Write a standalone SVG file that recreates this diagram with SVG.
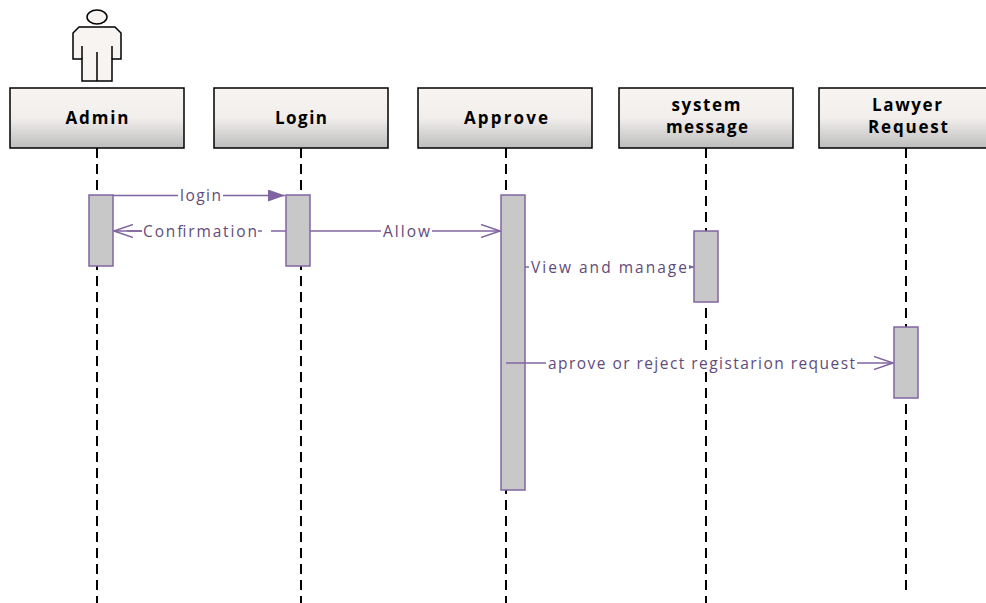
<svg xmlns="http://www.w3.org/2000/svg" width="986" height="603" viewBox="0 0 986 603">
<defs>
<linearGradient id="boxg" x1="0" y1="0" x2="0" y2="1">
<stop offset="0" stop-color="#F7F4F2"/>
<stop offset="0.5" stop-color="#F1EEEC"/>
<stop offset="1" stop-color="#BDBDBD"/>
</linearGradient>
<marker id="filled" markerWidth="18" markerHeight="12" refX="17" refY="6" orient="auto" markerUnits="userSpaceOnUse">
<path d="M0,0 L17,6 L0,12 Z" fill="#8064A2"/>
</marker>
<marker id="open" markerWidth="20" markerHeight="14" refX="19" refY="7" orient="auto" markerUnits="userSpaceOnUse">
<path d="M0,0.5 L19,7 L0,13.5" fill="none" stroke="#8064A2" stroke-width="1.5"/>
</marker>
<marker id="small" markerWidth="8" markerHeight="6" refX="7" refY="3" orient="auto" markerUnits="userSpaceOnUse">
<path d="M0,0 L7,3 L0,6 Z" fill="#8064A2"/>
</marker>
</defs>
<style>
.box{fill:url(#boxg);stroke:#000;stroke-width:1.5}
.title{font-family:"Open Sans","Liberation Sans",sans-serif;font-weight:bold;font-size:17px;fill:#000;text-anchor:middle}
.life{stroke:#000;stroke-width:2;stroke-dasharray:10 6;fill:none}
.act{fill:#C8C8C8;stroke:#8064A2;stroke-width:1.5}
.msg{stroke:#8064A2;stroke-width:1.5;fill:none}
.lbl{font-family:"Open Sans","Liberation Sans",sans-serif;font-size:15.5px;fill:#5F4B7B}
.bg{fill:#fff}
</style>
<rect width="986" height="603" fill="#fff"/>

<g id="lifelines">
<line class="life" x1="97" y1="148" x2="97" y2="603"/>
<line class="life" x1="301" y1="148" x2="301" y2="603"/>
<line class="life" x1="506" y1="148" x2="506" y2="603"/>
<line class="life" x1="706" y1="148" x2="706" y2="603"/>
<line class="life" x1="906" y1="148" x2="906" y2="590"/>
</g>

<g id="actor">
<ellipse cx="97" cy="17" rx="10" ry="7" fill="#F7F4F2" stroke="#000" stroke-width="1.5"/>
<path d="M79,27 H115 L121,33 V59 H112 V81 H82 V59 H73 V33 Z" fill="#F7F4F2" stroke="#000" stroke-width="1.5"/>
<path d="M82,46 V59 M112,46 V59 M97,52 V81" stroke="#000" stroke-width="1.5" fill="none"/>
</g>

<g id="admin">
<rect class="box" x="10" y="88" width="174" height="60"/>
<text class="title" x="97" y="124" textLength="63" lengthAdjust="spacing">Admin</text>
</g>
<g id="login">
<rect class="box" x="214" y="88" width="174" height="60"/>
<text class="title" x="301" y="124" textLength="52" lengthAdjust="spacing">Login</text>
</g>
<g id="approve">
<rect class="box" x="418" y="88" width="174" height="60"/>
<text class="title" x="506" y="124" textLength="84" lengthAdjust="spacing">Approve</text>
</g>
<g id="system-message">
<rect class="box" x="619" y="88" width="174" height="60"/>
<text class="title" x="706" y="111" textLength="69" lengthAdjust="spacing">system</text>
<text class="title" x="707" y="133" textLength="82" lengthAdjust="spacing">message</text>
</g>
<g id="lawyer-request">
<rect class="box" x="819" y="88" width="174" height="60"/>
<text class="title" x="907" y="111" textLength="70" lengthAdjust="spacing">Lawyer</text>
<text class="title" x="908" y="133" textLength="80" lengthAdjust="spacing">Request</text>
</g>

<g id="activations">
<rect class="act" x="89" y="195" width="24" height="71"/>
<rect class="act" x="286" y="195" width="24" height="71"/>
<rect class="act" x="501" y="195" width="24" height="295"/>
<rect class="act" x="694" y="231" width="24" height="71"/>
<rect class="act" x="894" y="327" width="24" height="71"/>
</g>

<g id="connectors">
<line class="msg" x1="113" y1="195.5" x2="285" y2="195.5" marker-end="url(#filled)"/>
<rect class="bg" x="178" y="187" width="45" height="18"/>
<text class="lbl" x="180" y="201" textLength="41" lengthAdjust="spacing">login</text>

<line class="msg" x1="286" y1="231" x2="114" y2="231" stroke-dasharray="15 9" marker-end="url(#open)"/>
<line class="msg" x1="114" y1="231" x2="143" y2="231"/>
<rect class="bg" x="142" y="222" width="116" height="18"/>
<text class="lbl" x="143" y="236.5" textLength="114" lengthAdjust="spacing">Confirmation</text>

<line class="msg" x1="310" y1="231" x2="500" y2="231" marker-end="url(#open)"/>
<rect class="bg" x="381" y="222" width="51" height="18"/>
<text class="lbl" x="383" y="236.5" textLength="47" lengthAdjust="spacing">Allow</text>

<line class="msg" x1="525" y1="267" x2="694" y2="267" marker-end="url(#small)"/>
<rect class="bg" x="529" y="258" width="160" height="18"/>
<text class="lbl" x="531" y="272.5" textLength="156" lengthAdjust="spacing">View and manage</text>

<line class="msg" x1="506" y1="363" x2="893" y2="363" marker-end="url(#open)"/>
<rect class="bg" x="546" y="354" width="311" height="18"/>
<text class="lbl" x="548" y="368.5" textLength="307" lengthAdjust="spacing">aprove or reject registarion request</text>
</g>
</svg>
